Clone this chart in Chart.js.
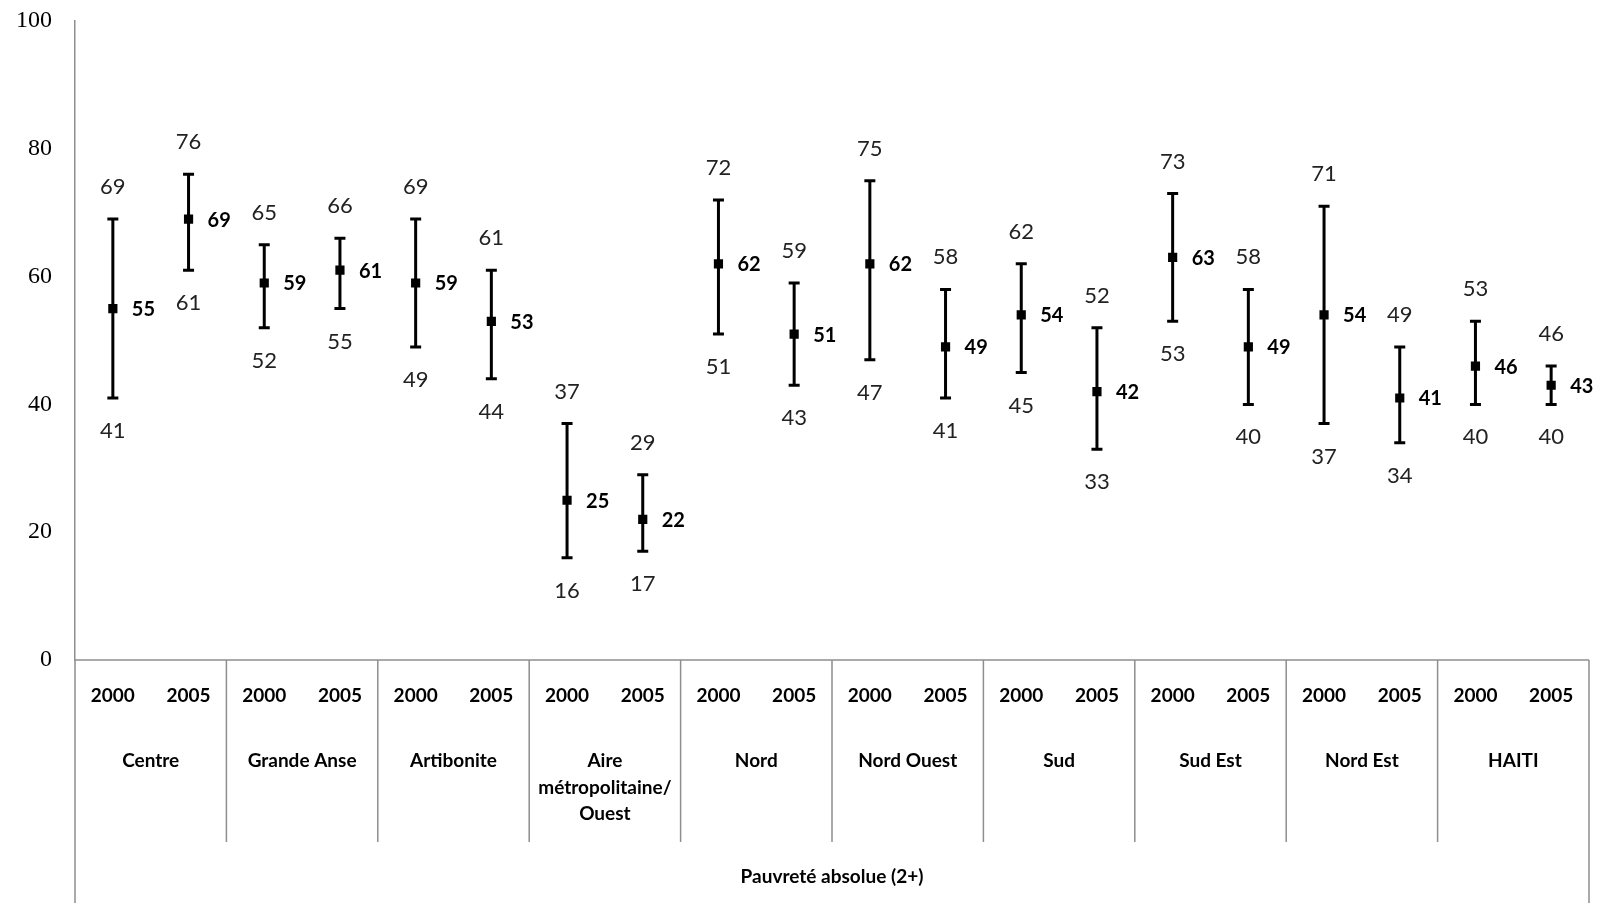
<!DOCTYPE html>
<html>
<head>
<meta charset="utf-8">
<script src="https://cdn.jsdelivr.net/npm/chart.js@4/dist/chart.umd.min.js"></script>
<style>
  html, body { margin: 0; padding: 0; background: #fff; }
  #wrap { width: 1602px; height: 903px; position: relative; }
</style>
</head>
<body>
<div id="wrap"><canvas id="c" width="1602" height="903"></canvas></div>
<script>
// Poverty rate by department, 2000 vs 2005, with confidence intervals
const regions = ['Centre', 'Grande Anse', 'Artibonite', 'Aire\nmétropolitaine/\nOuest', 'Nord',
                 'Nord Ouest', 'Sud', 'Sud Est', 'Nord Est', 'HAITI'];
const years = ['2000', '2005'];
const meanValues  = [55, 69, 59, 61, 59, 53, 25, 22, 62, 51, 62, 49, 54, 42, 63, 49, 54, 41, 46, 43];
const lowerValues = [41, 61, 52, 55, 49, 44, 16, 17, 51, 43, 47, 41, 45, 33, 53, 40, 37, 34, 40, 40];
const upperValues = [69, 76, 65, 66, 69, 61, 37, 29, 72, 59, 75, 58, 62, 52, 73, 58, 71, 49, 53, 46];
const yTicks = [0, 20, 40, 60, 80, 100];
const axisTitle = 'Pauvreté absolue (2+)';

const categories = [];
regions.forEach(r => years.forEach(y => categories.push(r + ' ' + y)));

const AXIS_COLOR = '#8e8e8e';
const LABEL_FONT = 'Lato, "Open Sans", sans-serif';

const errorBars = {
  id: 'errorBars',
  beforeDatasetsDraw(chart) {
    const { ctx, scales: { x, y } } = chart;
    ctx.save();
    ctx.strokeStyle = '#000';
    ctx.lineWidth = 3;
    ctx.lineCap = 'butt';
    meanValues.forEach((m, i) => {
      const px = x.getPixelForValue(i);
      const yl = y.getPixelForValue(lowerValues[i]);
      const yu = y.getPixelForValue(upperValues[i]);
      ctx.beginPath();
      ctx.moveTo(px, yl); ctx.lineTo(px, yu);
      ctx.moveTo(px - 5.5, yl); ctx.lineTo(px + 5.5, yl);
      ctx.moveTo(px - 5.5, yu); ctx.lineTo(px + 5.5, yu);
      ctx.stroke();
    });
    ctx.restore();
  },
  afterDatasetsDraw(chart) {
    const { ctx, scales: { x, y } } = chart;
    ctx.save();
    ctx.textBaseline = 'middle';
    meanValues.forEach((m, i) => {
      const px = x.getPixelForValue(i);
      ctx.fillStyle = '#222';
      ctx.font = '22px ' + LABEL_FONT;
      ctx.textAlign = 'center';
      ctx.fillText(String(upperValues[i]), px, y.getPixelForValue(upperValues[i]) - 32);
      ctx.fillText(String(lowerValues[i]), px, y.getPixelForValue(lowerValues[i]) + 33);
      ctx.fillStyle = '#000';
      ctx.font = 'bold 20px ' + LABEL_FONT;
      ctx.textAlign = 'left';
      ctx.fillText(String(m), px + 19, y.getPixelForValue(m) + 1);
    });
    ctx.restore();
  },
  afterDraw(chart) {
    const { ctx, chartArea: a, scales: { x } } = chart;
    const step = x.getPixelForValue(1) - x.getPixelForValue(0);
    const bottom = chart.height;
    ctx.save();
    ctx.strokeStyle = AXIS_COLOR;
    ctx.lineWidth = 1.5;
    ctx.beginPath();
    // baseline and frame of the category table
    ctx.moveTo(a.left, a.bottom); ctx.lineTo(a.right, a.bottom);
    ctx.moveTo(a.left, a.bottom); ctx.lineTo(a.left, bottom);
    ctx.moveTo(a.right, a.bottom); ctx.lineTo(a.right, bottom);
    for (let g = 1; g < regions.length; g++) {
      const sx = x.getPixelForValue(g * years.length) - step / 2;
      ctx.moveTo(sx, a.bottom); ctx.lineTo(sx, a.bottom + 182);
    }
    ctx.stroke();

    ctx.fillStyle = '#000';
    ctx.textAlign = 'center';
    ctx.textBaseline = 'middle';
    ctx.font = 'bold 19px ' + LABEL_FONT;
    categories.forEach((c, i) => {
      ctx.fillText(years[i % years.length], x.getPixelForValue(i), a.bottom + 36);
    });
    regions.forEach((r, g) => {
      const cx = (x.getPixelForValue(g * 2) + x.getPixelForValue(g * 2 + 1)) / 2;
      r.split('\n').forEach((line, k) => {
        ctx.fillText(line, cx, a.bottom + 101 + k * 26.5);
      });
    });
    ctx.fillText(axisTitle, (a.left + a.right) / 2, a.bottom + 217);
    ctx.restore();
  }
};

new Chart(document.getElementById('c'), {
  type: 'line',
  data: {
    labels: categories,
    datasets: [{
      data: meanValues,
      showLine: false,
      pointStyle: 'rect',
      pointRadius: 6.5,
      pointBackgroundColor: '#000',
      pointBorderColor: '#000',
      pointBorderWidth: 0
    }]
  },
  options: {
    responsive: false,
    animation: false,
    events: [],
    layout: { padding: { left: 0, top: 21, right: 13, bottom: 243 } },
    plugins: { legend: { display: false }, tooltip: { enabled: false } },
    scales: {
      x: { type: 'category', offset: true, display: false },
      y: {
        min: 0, max: 100,
        afterFit(scale) {
          scale.width = 75;
          scale.paddingTop = 0;
          scale.paddingBottom = 0;
        },
        afterBuildTicks(scale) { scale.ticks = yTicks.map(v => ({ value: v })); },
        grid: { display: false, drawTicks: false },
        border: { display: true, color: AXIS_COLOR, width: 1.5 },
        ticks: {
          padding: 23,
          color: '#000',
          font: { family: '"Liberation Serif", "Times New Roman", serif', size: 24 }
        }
      }
    }
  },
  plugins: [errorBars]
});
</script>
</body>
</html>
